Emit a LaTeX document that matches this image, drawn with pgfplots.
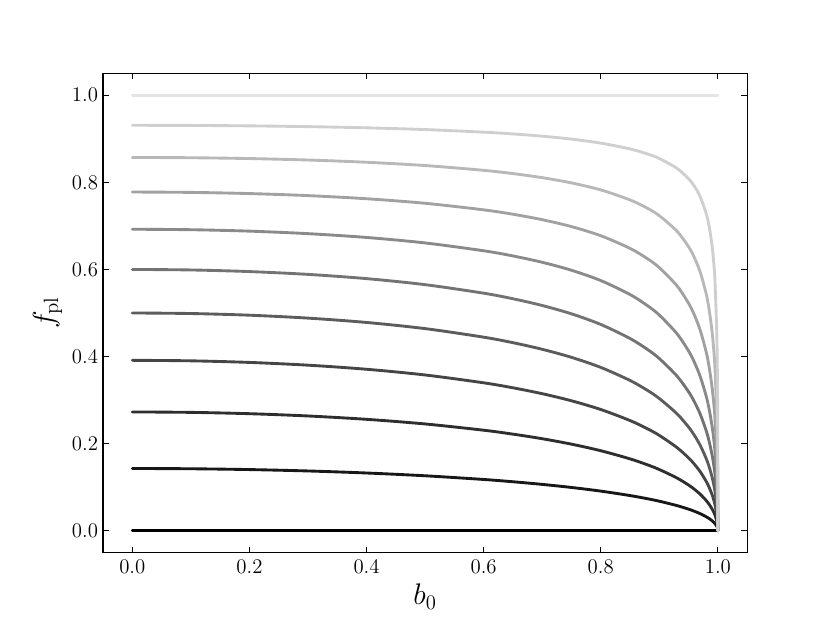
\documentclass[border=0pt]{standalone}
\usepackage{pgfplots}
\pgfplotsset{compat=1.18}
\definecolor{g0}{gray}{0.00}
\definecolor{g1}{gray}{0.09}
\definecolor{g2}{gray}{0.18}
\definecolor{g3}{gray}{0.27}
\definecolor{g4}{gray}{0.36}
\definecolor{g5}{gray}{0.45}
\definecolor{g6}{gray}{0.54}
\definecolor{g7}{gray}{0.63}
\definecolor{g8}{gray}{0.72}
\definecolor{g9}{gray}{0.81}
\definecolor{g10}{gray}{0.90}
\begin{document}
\begin{tikzpicture}
\path[use as bounding box] (0,0) rectangle (576bp,432bp);
\begin{axis}[
  at={(71.5bp,48.6bp)}, anchor=south west,
  scale only axis, width=447bp, height=332.4bp,
  xmin=-0.05, xmax=1.05, ymin=-0.05, ymax=1.05,
  xtick={0,0.2,0.4,0.6,0.8,1.0}, ytick={0,0.2,0.4,0.6,0.8,1.0},
  xticklabels={0.0,0.2,0.4,0.6,0.8,1.0},
  yticklabels={0.0,0.2,0.4,0.6,0.8,1.0},
  tick align=inside, major tick length=4bp,
  xtick pos=both, ytick pos=both,
  tick style={black, line width=0.7pt},
  axis line style={line width=0.8pt},
  ticklabel style={font=\fontsize{14.5}{17}\selectfont},
  xticklabel style={yshift=-1.5bp},
  xlabel={$b_0$}, ylabel={$f_{\mathrm{pl}}$},
  label style={font=\fontsize{22}{26}\selectfont},
  every axis plot/.append style={line width=2pt, line join=round, line cap=round},
]
\addplot[g0] coordinates {(0,0) (1,0)};
\addplot[g1, smooth, tension=0.5] coordinates {(0,0.14286) (0.1,0.14224) (0.2,0.14038) (0.3,0.13718) (0.4,0.13251) (0.5,0.12613) (0.6,0.11765) (0.65,0.11242) (0.7,0.10636) (0.75,0.09929) (0.8,0.09091) (0.85,0.08071) (0.88,0.07335) (0.9,0.06773) (0.93,0.05772) (0.95,0.04947) (0.96,0.04459) (0.97,0.03894) (0.98,0.03210) (0.985,0.02795) (0.99,0.02297) (0.993,0.01931) (0.995,0.01637) (0.998,0.01043) (0.999,0.00740) (0.9995,0.00524) (1,0)};
\addplot[g2, smooth, tension=0.5] coordinates {(0,0.27273) (0.1,0.27173) (0.2,0.26870) (0.3,0.26347) (0.4,0.25578) (0.5,0.24515) (0.6,0.23077) (0.65,0.22177) (0.7,0.21123) (0.75,0.19874) (0.8,0.18367) (0.85,0.16496) (0.88,0.15118) (0.9,0.14049) (0.93,0.12114) (0.95,0.10482) (0.96,0.09502) (0.97,0.08354) (0.98,0.06944) (0.985,0.06077) (0.99,0.05024) (0.993,0.04241) (0.995,0.03610) (0.998,0.02316) (0.999,0.01649) (0.9995,0.01172) (1,0)};
\addplot[g3, smooth, tension=0.5] coordinates {(0,0.39130) (0.1,0.39011) (0.2,0.38645) (0.3,0.38013) (0.4,0.37075) (0.5,0.35763) (0.6,0.33962) (0.65,0.32819) (0.7,0.31464) (0.75,0.29835) (0.8,0.27835) (0.85,0.25298) (0.88,0.23391) (0.9,0.21888) (0.93,0.19112) (0.95,0.16718) (0.96,0.15254) (0.97,0.13516) (0.98,0.11342) (0.985,0.09985) (0.99,0.08315) (0.993,0.07057) (0.995,0.06033) (0.998,0.03905) (0.999,0.02794) (0.9995,0.01992) (1,0)};
\addplot[g4, smooth, tension=0.5] coordinates {(0,0.5) (0.1,0.49874) (0.2,0.49490) (0.3,0.48821) (0.4,0.47822) (0.5,0.46410) (0.6,0.44444) (0.65,0.43180) (0.7,0.41662) (0.75,0.39811) (0.8,0.375) (0.85,0.34503) (0.88,0.32202) (0.9,0.30357) (0.93,0.26877) (0.95,0.23795) (0.96,0.21875) (0.97,0.19556) (0.98,0.16597) (0.985,0.14716) (0.99,0.12363) (0.993,0.10563) (0.995,0.09080) (0.998,0.05945) (0.999,0.04280) (0.9995,0.03065) (1,0)};
\addplot[g5, smooth, tension=0.5] coordinates {(0,0.6) (0.1,0.59879) (0.2,0.59509) (0.3,0.58863) (0.4,0.57891) (0.5,0.56503) (0.6,0.54545) (0.65,0.53268) (0.7,0.51719) (0.75,0.49803) (0.8,0.47368) (0.85,0.44139) (0.88,0.41604) (0.9,0.39535) (0.93,0.35540) (0.95,0.31897) (0.96,0.29577) (0.97,0.26721) (0.98,0.22988) (0.985,0.20561) (0.99,0.17465) (0.993,0.15050) (0.995,0.13029) (0.998,0.08660) (0.999,0.06285) (0.9995,0.04528) (1,0)};
\addplot[g6, smooth, tension=0.5] coordinates {(0,0.69231) (0.1,0.69123) (0.2,0.68794) (0.3,0.68217) (0.4,0.67344) (0.5,0.66085) (0.6,0.64286) (0.65,0.63098) (0.7,0.61639) (0.75,0.59811) (0.8,0.57447) (0.85,0.54239) (0.88,0.51660) (0.9,0.49515) (0.93,0.45266) (0.95,0.41265) (0.96,0.38650) (0.97,0.35358) (0.98,0.30927) (0.985,0.27966) (0.99,0.24093) (0.993,0.20995) (0.995,0.18348) (0.998,0.12452) (0.999,0.09140) (0.9995,0.06642) (1,0)};
\addplot[g7, smooth, tension=0.5] coordinates {(0,0.77778) (0.1,0.77691) (0.2,0.77423) (0.3,0.76952) (0.4,0.76235) (0.5,0.75193) (0.6,0.73684) (0.65,0.72676) (0.7,0.71425) (0.75,0.69835) (0.8,0.67742) (0.85,0.64835) (0.88,0.62441) (0.9,0.60406) (0.93,0.56265) (0.95,0.52220) (0.96,0.49495) (0.97,0.45971) (0.98,0.41055) (0.985,0.37654) (0.99,0.33054) (0.993,0.29248) (0.995,0.25901) (0.998,0.18116) (0.999,0.13531) (0.9995,0.09964) (0.99995,0.0338) (1,0)};
\addplot[g8, smooth, tension=0.5] coordinates {(0,0.85714) (0.1,0.85652) (0.2,0.85463) (0.3,0.85127) (0.4,0.84613) (0.5,0.83861) (0.6,0.82759) (0.65,0.82013) (0.7,0.81078) (0.75,0.79873) (0.8,0.78261) (0.85,0.75965) (0.88,0.74025) (0.9,0.72340) (0.93,0.68802) (0.95,0.65199) (0.96,0.62686) (0.97,0.59326) (0.98,0.54420) (0.985,0.50866) (0.99,0.45841) (0.993,0.41474) (0.995,0.37469) (0.998,0.27497) (0.999,0.21152) (0.9995,0.15946) (0.99995,0.0566) (1,0)};
\addplot[g9, smooth, tension=0.5] coordinates {(0,0.93103) (0.1,0.93071) (0.2,0.92971) (0.3,0.92794) (0.4,0.92522) (0.5,0.92121) (0.6,0.91525) (0.65,0.91118) (0.7,0.90602) (0.75,0.89929) (0.8,0.89011) (0.85,0.87672) (0.88,0.86509) (0.9,0.85474) (0.93,0.83227) (0.95,0.80826) (0.96,0.79080) (0.97,0.76646) (0.98,0.72874) (0.985,0.69965) (0.99,0.65570) (0.993,0.61457) (0.995,0.57417) (0.998,0.46044) (0.999,0.37640) (0.9995,0.29917) (0.99995,0.11894) (1,0)};
\addplot[g10] coordinates {(0,1) (1,1)};
\end{axis}
\end{tikzpicture}
\end{document}
